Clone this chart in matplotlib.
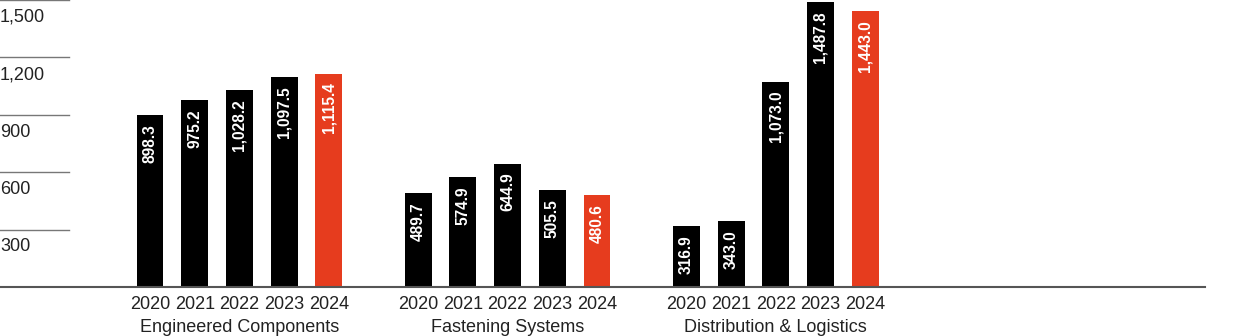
import matplotlib.pyplot as plt
from matplotlib.transforms import blended_transform_factory

segments = ['Engineered Components', 'Fastening Systems', 'Distribution & Logistics']
years = ['2020', '2021', '2022', '2023', '2024']
engineered = [898.3, 975.2, 1028.2, 1097.5, 1115.4]
fastening = [489.7, 574.9, 644.9, 505.5, 480.6]
distribution = [316.9, 343.0, 1073.0, 1487.8, 1443.0]
yticks = [300, 600, 900, 1200, 1500]

BLACK = '#000000'
RED = '#e63c1e'
TXT = '#222222'

plt.rcParams['font.family'] = ['Liberation Sans', 'DejaVu Sans']

fig = plt.figure(figsize=(12.4, 3.36), dpi=100)
ax = fig.add_axes([0, 49 / 336, 1, 287 / 336])

step = 44.7  # px per bar slot
ax.set_xlim(-150 / step, (1240 - 150) / step)
ax.set_ylim(0, 1500)
for s in ax.spines.values():
    s.set_visible(False)
ax.set_yticks([])

positions = []
labels = []
for g, vals in enumerate([engineered, fastening, distribution]):
    for i, v in enumerate(vals):
        x = g * 6 + i
        positions.append(x)
        labels.append(years[i])
        color = RED if i == len(vals) - 1 else BLACK
        ax.bar(x, v, width=0.6, color=color, zorder=2)
        ax.annotate(f'{v:,.1f}', (x, v), xytext=(0, -6.5), textcoords='offset points',
                    rotation=90, ha='center', va='top', color='white',
                    fontsize=11.2, fontweight='bold')
    ax.text(g * 6 + 2, -40 / 287, segments[g], ha='center', va='center',
            fontsize=13, color=TXT,
            transform=blended_transform_factory(ax.transData, ax.transAxes))

ax.set_xticks(positions, labels)
ax.tick_params(axis='x', length=0, pad=6.5, labelsize=13, labelcolor=TXT)

# baseline
ax.axhline(0, xmin=0, xmax=1205 / 1240, color='#555555', lw=1.5, zorder=3, clip_on=False)

# y gridline stubs and labels
for y in yticks:
    ax.axhline(y, xmin=0, xmax=69 / 1240, color='#777777', lw=1, clip_on=False)
    ax.annotate(f'{y:,}', (0, y), xycoords=('axes fraction', 'data'),
                xytext=(0, -12.5), textcoords='offset points',
                ha='left', va='center', fontsize=13, color=TXT)

fig.savefig('out.png', dpi=100)
